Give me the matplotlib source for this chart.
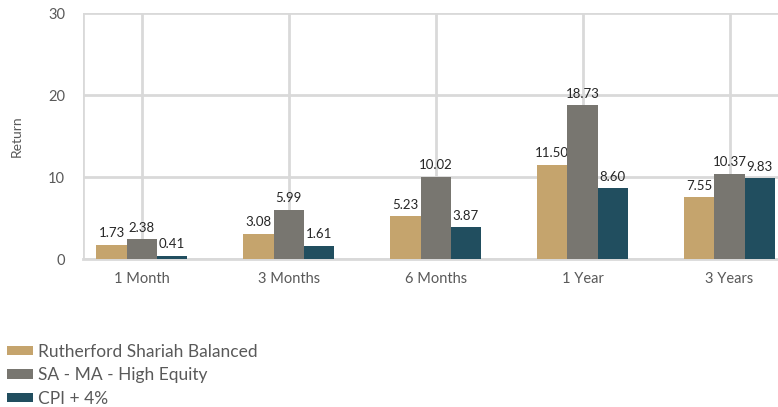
import numpy as np
import matplotlib
matplotlib.use('Agg')
from matplotlib import pyplot as plt

periods = ['1 Month', '3 Months', '6 Months', '1 Year', '3 Years']
series_names = ['Rutherford Shariah Balanced', 'SA - MA - High Equity', 'CPI + 4%']
fund = [1.73, 3.08, 5.23, 11.50, 7.55]
sector = [2.38, 5.99, 10.02, 18.73, 10.37]
cpi = [0.41, 1.61, 3.87, 8.60, 9.83]
colors = ['#c5a46d', '#787670', '#214e5f']

plt.rcParams['font.family'] = ['Lato', 'DejaVu Sans']

fig = plt.figure(figsize=(7.78, 4.07), dpi=100)
ax = fig.add_axes([0.1067, 0.3636, 0.8933, 0.6044])

x = np.arange(len(periods))
w = 0.206
grid_col = '#d9d9d9'

handles = []
for i, (vals, c) in enumerate(zip([fund, sector, cpi], colors)):
    bars = ax.bar(x + (i - 1) * w, vals, width=w, color=c, zorder=3)
    handles.append(bars)
    for b, v in zip(bars, vals):
        ax.annotate(f'{v:.2f}', (b.get_x() + b.get_width() / 2, v),
                    xytext=(0, 4), textcoords='offset points',
                    ha='center', va='bottom', fontsize=9.5, color='#262626')

ax.set_ylim(0, 30)
ax.set_xlim(-0.4, 4.33)
ax.set_yticks([0, 10, 20, 30])
ax.set_xticks(x)
ax.set_xticklabels(periods)
ax.grid(True, color=grid_col, linewidth=2, zorder=0)
ax.axvline(-0.4, color=grid_col, linewidth=2, zorder=0)
for s in ['top', 'right', 'left']:
    ax.spines[s].set_visible(False)
ax.spines['bottom'].set_color(grid_col)
ax.spines['bottom'].set_linewidth(2)
ax.tick_params(length=0, labelsize=10.5, labelcolor='#595959')
ax.tick_params(axis='y', pad=13)
ax.tick_params(axis='x', pad=9)
ax.set_ylabel('Return', fontsize=10, color='#595959', labelpad=18)

fig.legend(handles, series_names, loc='upper left', bbox_to_anchor=(0.0, 0.172),
           frameon=False, fontsize=12.5, labelcolor='#595959',
           handlelength=1.5, handleheight=0.46, handletextpad=0.3, labelspacing=0.42,
           borderaxespad=0)

fig.savefig('out.png', dpi=100)
